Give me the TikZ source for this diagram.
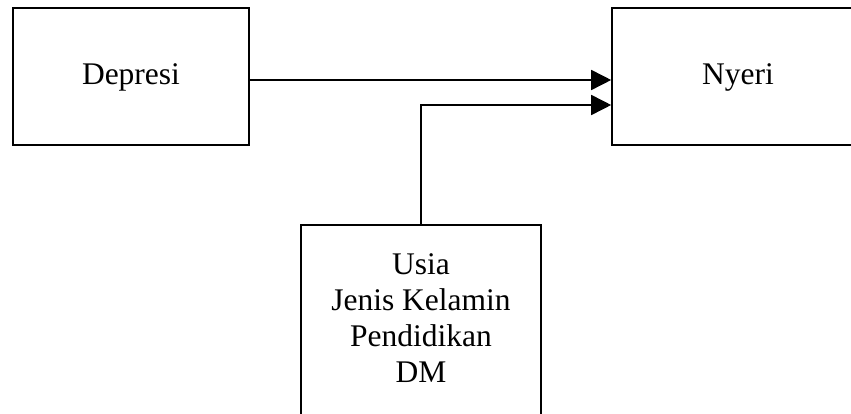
\documentclass[tikz,border=0pt]{standalone}
\usepackage{fontspec}
\setmainfont{Liberation Serif}
\usetikzlibrary{arrows.meta}
\tikzset{
  box/.style={draw=black, line width=1.6pt, inner sep=0pt},
  lbl/.style={font=\fontsize{31.5pt}{36pt}\selectfont, inner sep=0pt, align=center},
  conn/.style={draw=black, line width=1.6pt, -{Triangle[length=20pt,width=20pt]}}
}
\begin{document}
\begin{tikzpicture}[x=1pt,y=1pt]
\useasboundingbox (0,0) rectangle (851,-414);
\clip (0,0) rectangle (851,-414);
\fill[white] (0,0) rectangle (851,-414);
\node[box, minimum width=236pt, minimum height=137pt] (dep) at (131,-76.5) {};
\node[lbl] (deptext) at (131,-77) {Depresi};
\node[box, minimum width=252pt, minimum height=137pt] (nye) at (738,-76.5) {};
\node[lbl] (nyetext) at (738,-77) {Nyeri};
\node[box, minimum width=240pt, minimum height=205pt] (usia) at (421,-327.5) {};
\node[lbl] (usiatext) at (421,-318) {Usia\\Jenis Kelamin\\Pendidikan\\DM};
\coordinate (y1) at (0,-80);
\coordinate (y2) at (0,-105);
\draw[conn] (dep.east |- y1) -- (nye.west |- y1);
\draw[conn] (usia.north) |- (nye.west |- y2);
\end{tikzpicture}
\end{document}
